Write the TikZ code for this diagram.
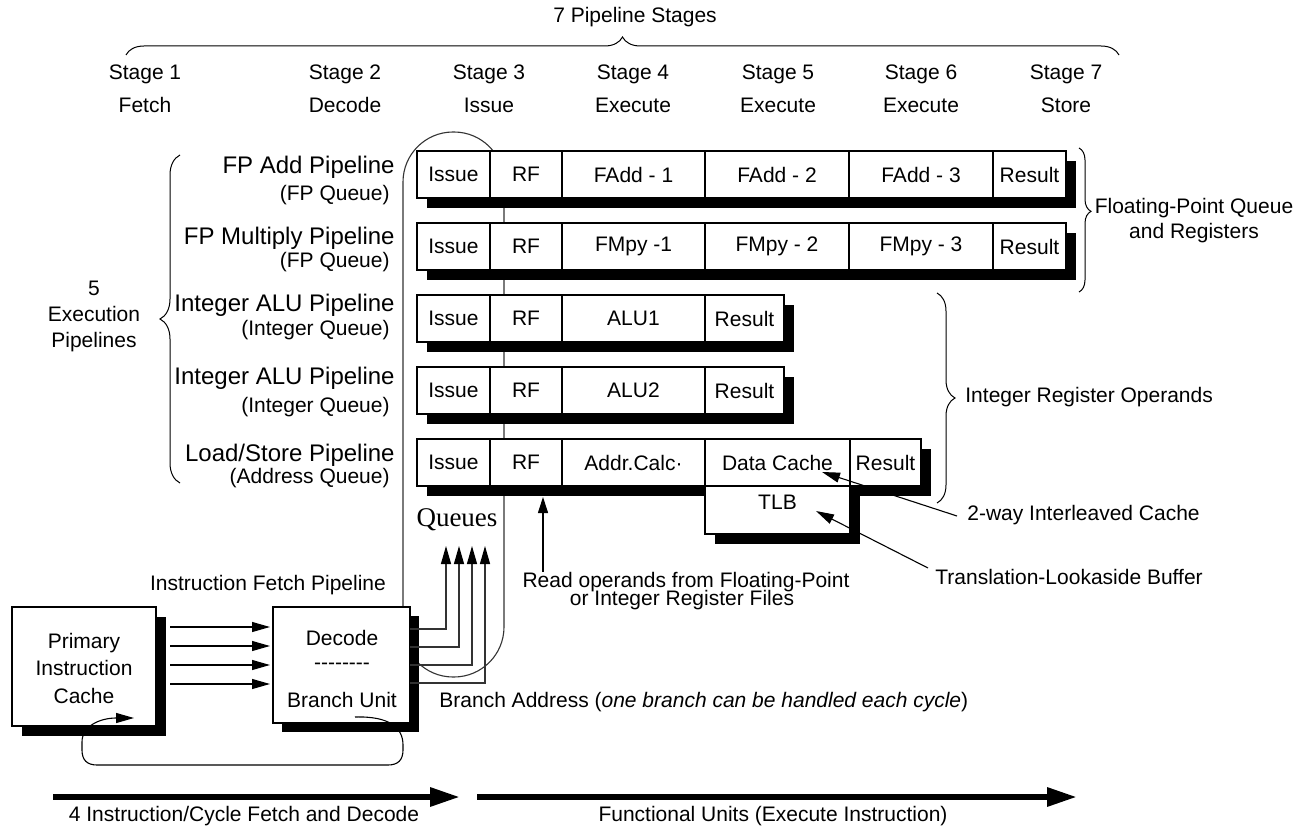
\documentclass[tikz,border=0pt]{standalone}
\usepackage{fontspec}
\setmainfont{Liberation Sans}
\newfontfamily\serifq{Liberation Serif}
\usetikzlibrary{arrows.meta,decorations.pathreplacing}
\begin{document}
\begin{tikzpicture}[x=0.5pt,y=-0.5pt,
  cell/.style={draw, line width=1.1pt, fill=white, inner sep=0pt, minimum height=23.5pt, font=\fontsize{10.5}{12}\selectfont},
  thincell/.style={cell, line width=0.6pt},
  lbl/.style={font=\fontsize{10.5}{12.6}\selectfont, inner sep=0pt},
  biglbl/.style={font=\fontsize{12}{14}\selectfont, inner sep=0pt, anchor=east},
  sublbl/.style={font=\fontsize{10.5}{12.6}\selectfont, inner sep=0pt, anchor=east},
  thinln/.style={draw=black!80, line width=0.55pt},
  tip/.style={-{Triangle[length=9pt,width=5pt,color=black]}},
  brc/.style={decorate, decoration={brace, amplitude=#1}, line width=0.5pt},
  shadowbox/.style={fill=black}
]
\useasboundingbox (0,0) rectangle (1308,829);

% queue loop (stadium)
\draw[thinln, rounded corners=25pt] (403,132) rectangle (504,677);

% shadows
\fill[shadowbox] (427,161) rectangle (1076,208);
\fill[shadowbox] (427,233) rectangle (1076,280);
\fill[shadowbox] (427,305) rectangle (794,352);
\fill[shadowbox] (427,377) rectangle (794,424);
\fill[shadowbox] (427,449) rectangle (931,496);
\fill[shadowbox] (715,496) rectangle (860,544);
\fill[shadowbox] (22,617) rectangle (166,736);
\fill[shadowbox] (282,616) rectangle (419,732);

% row 1
\node[cell, minimum width=36.5pt] (i1) at (453.5,174.5) {Issue};
\node[cell, minimum width=36pt] (r1) at (526,174.5) {RF};
\node[cell, minimum width=71.5pt] (a1) at (633.5,174.5) {FAdd - 1};
\node[cell, minimum width=72pt] (b1) at (777,174.5) {FAdd - 2};
\node[cell, minimum width=72pt] (c1) at (921,174.5) {FAdd - 3};
\node[cell, minimum width=36.5pt] (s1) at (1029.5,174.5) {Result};
% row 2
\node[cell, minimum width=36.5pt] (i2) at (453.5,246.5) {Issue};
\node[cell, minimum width=36pt] (r2) at (526,246.5) {RF};
\node[cell, minimum width=71.5pt] (a2) at (633.5,246.5) {FMpy -1};
\node[cell, minimum width=72pt] (b2) at (777,246.5) {FMpy - 2};
\node[cell, minimum width=72pt] (c2) at (921,246.5) {FMpy - 3};
\node[cell, minimum width=36.5pt] (s2) at (1029.5,246.5) {Result};
% row 3
\node[cell, minimum width=36.5pt] (i3) at (453.5,318.5) {Issue};
\node[cell, minimum width=36pt] (r3) at (526,318.5) {RF};
\node[cell, minimum width=71.5pt] (a3) at (633.5,318.5) {ALU1};
\node[cell, minimum width=39.5pt] (s3) at (744.5,318.5) {Result};
% row 4
\node[cell, minimum width=36.5pt] (i4) at (453.5,390.5) {Issue};
\node[cell, minimum width=36pt] (r4) at (526,390.5) {RF};
\node[cell, minimum width=71.5pt] (a4) at (633.5,390.5) {ALU2};
\node[cell, minimum width=39.5pt] (s4) at (744.5,390.5) {Result};
% row 5
\node[cell, minimum width=36.5pt] (i5) at (453.5,462.5) {Issue};
\node[cell, minimum width=36pt] (r5) at (526,462.5) {RF};
\node[cell, minimum width=71.5pt] (a5) at (633.5,462.5) {Addr.Calc·};
\node[thincell, minimum width=72.5pt] (dc) at (777.5,462.5) {Data Cache};
\node[thincell, minimum width=35.5pt] (s5) at (885.5,462.5) {Result};
\node[thincell, minimum width=72.5pt, minimum height=24pt] (tlb) at (777.5,510) {};
\node[lbl] (tlbt) at (777.5,502) {TLB};

% fetch / decode boxes
\node[cell, minimum width=72pt, minimum height=59.5pt] (pic) at (84,666.5) {};
\node[lbl, align=center, font=\fontsize{10.5}{13.75}\selectfont] (pict) at (84,668) {Primary\\Instruction\\Cache};
\node[cell, minimum width=68.5pt, minimum height=58pt] (dec) at (341.5,665) {};
\node[lbl] (dect) at (342,638) {Decode};
\node[lbl] (decd) at (342,666) {-{}-{}-{}-{}-{}-{}-{}-};
\node[lbl] (bu) at (342,700) {Branch Unit};

% fetch arrows
\foreach \yy in {627,646,665,684}{
  \draw[line width=0.55pt, tip] (170,\yy) -- (270,\yy);
}

% decode outputs to queues
\coordinate (q1) at (446,546);
\coordinate (q2) at (459,546);
\coordinate (q3) at (472,546);
\coordinate (q4) at (485,546);
\draw[thinln, tip] (410,629) -| (q1);
\draw[thinln, tip] (410,647) -| (q2);
\draw[thinln, tip] (410,665) -| (q3);
\draw[thinln, tip] (410,683) -| (q4);
\node[font=\serifq\fontsize{13.5}{16}\selectfont, inner sep=0pt] (qt) at (457,520) {Queues};

% branch loop
\coordinate (bl0) at (355,717);
\coordinate (bl1) at (134,718);
\draw[line width=0.55pt, tip] (bl0) .. controls (390,716) and (403,728) .. (403,745) -- (403,750)
   .. controls (403,760) and (398,765) .. (388,765) -- (97,765)
   .. controls (87,765) and (82,760) .. (82,750) -- (82,742)
   .. controls (82,726) and (100,718) .. (bl1);

% read operands arrow
\coordinate (ro0) at (543,572);
\coordinate (ro1) at (543,497);
\draw[line width=0.55pt, -{Triangle[length=8pt,width=5pt]}] (ro0) -- (ro1);
\node[lbl] (rot1) at (686,582) {Read operands from Floating-Point};
\node[lbl] (rot2) at (682,600) {or Integer Register Files};

% annotation arrows
\coordinate (dcl) at (957,516);
\coordinate (dct) at (822,472);
\draw[line width=0.55pt, tip] (dcl) -- (dct);
\coordinate (tll) at (928,568);
\coordinate (tlt) at (816,511);
\draw[line width=0.55pt, tip] (tll) -- (tlt);
\node[lbl, anchor=west] (twoway) at (967,515) {2-way Interleaved Cache};
\node[lbl, anchor=west] (tlbl) at (935,577) {Translation-Lookaside Buffer};

% labels
\node[lbl, anchor=west] (ba) at (439,702) {Branch Address (\textit{one branch can be handled each cycle})};
\node[lbl] (ifp) at (268,585) {Instruction Fetch Pipeline};

% top
\node[lbl] (title) at (635,17) {7 Pipeline Stages};
\draw[brc=9pt] (126,55) -- (1119,55);
\foreach \xx/\n/\s in {145/1/Fetch,345/2/Decode,489/3/Issue,633/4/Execute,778/5/Execute,921/6/Execute,1066/7/Store}{
  \node[lbl] (st\n) at (\xx,74) {Stage \n};
  \node[lbl] (sn\n) at (\xx,105) {\s};
}

% pipeline labels
\node[biglbl] (l1) at (395,167) {FP Add Pipeline};
\node[sublbl] (l1b) at (390,195) {(FP Queue)};
\node[biglbl] (l2) at (395,238) {FP Multiply Pipeline};
\node[sublbl] (l2b) at (390,262) {(FP Queue)};
\node[biglbl] (l3) at (395,305) {Integer ALU Pipeline};
\node[sublbl] (l3b) at (390,330) {(Integer Queue)};
\node[biglbl] (l4) at (395,378) {Integer ALU Pipeline};
\node[sublbl] (l4b) at (390,407) {(Integer Queue)};
\node[biglbl] (l5) at (395,455) {Load/Store Pipeline};
\node[sublbl] (l5b) at (390,478) {(Address Queue)};

\draw[brc=10pt] (180,483) -- (180,155);
\node[lbl, align=center, font=\fontsize{10.5}{13}\selectfont] (exe) at (94,316) {5\\Execution\\Pipelines};

% right braces
\draw[decorate, decoration={brace, amplitude=6pt, aspect=0.44}, line width=0.5pt] (1079,148) -- (1079,292);
\node[lbl, align=center, font=\fontsize{10.5}{12.5}\selectfont] (fpq) at (1194,221) {Floating-Point Queue\\and Registers};
\draw[brc=9pt] (937,293) -- (937,503);
\node[lbl, anchor=west] (iro) at (965,397) {Integer Register Operands};

% bottom arrows
\coordinate (ba0) at (53,797);
\coordinate (ba1) at (460,797);
\coordinate (bb0) at (477,797);
\coordinate (bb1) at (1077,797);
\draw[line width=3pt, -{Triangle[length=15pt,width=9pt]}] (ba0) -- (ba1);
\draw[line width=3pt, -{Triangle[length=15pt,width=9pt]}] (bb0) -- (bb1);
\node[lbl] (bt1) at (244,816) {4 Instruction/Cycle Fetch and Decode};
\node[lbl] (bt2) at (773,816) {Functional Units (Execute Instruction)};
\end{tikzpicture}
\end{document}
